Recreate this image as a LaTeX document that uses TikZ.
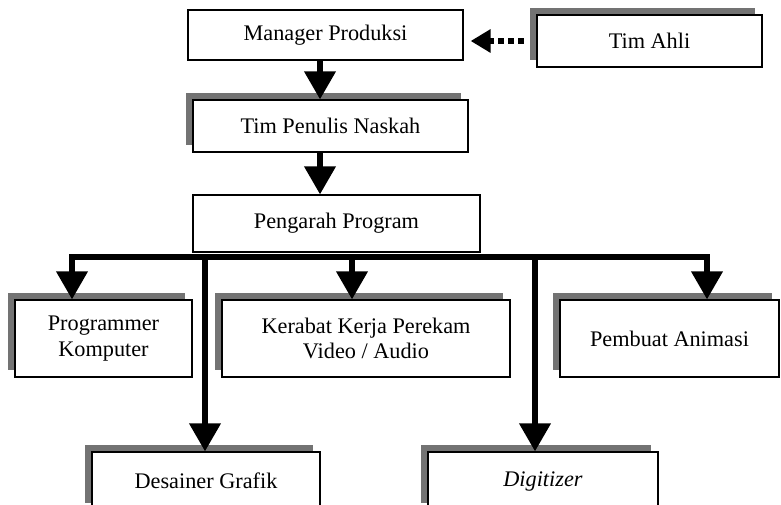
\documentclass[tikz,border=0pt]{standalone}
\usepackage{fontspec}
\setmainfont{Liberation Serif}
\usetikzlibrary{arrows.meta,shadows}
\begin{document}
\begin{tikzpicture}[x=0.03cm,y=-0.03cm,
  font=\fontsize{19}{21.5}\selectfont,
  box/.style={draw, line width=1pt, fill=white, align=center, inner sep=2pt},
  shbox/.style={box, drop shadow={shadow xshift=-6pt, shadow yshift=6pt, fill=black!55, opacity=1}},
  link/.style={line width=5pt, -{Triangle[length=24pt,width=26pt]}},
  helper/.style={line width=5pt, line cap=butt, dash pattern=on 5pt off 3.5pt, shorten <=11pt, shorten >=6pt, -{Triangle[length=17pt,width=19pt]}}]
\useasboundingbox (0,0) rectangle (781,505);
\clip (0,0) rectangle (781,505);
\node[box, minimum width=8.25cm, minimum height=1.5cm] (mgr) at (325.5,35) {Manager Produksi};
\node[shbox, minimum width=6.75cm, minimum height=1.56cm] (ahli) at (649.5,41) {Tim Ahli};
\node[shbox, minimum width=8.25cm, minimum height=1.56cm] (naskah) at (330.5,126) {Tim Penulis Naskah};
\node[box, minimum width=8.61cm, minimum height=1.71cm] (pengarah) at (336.5,223.5) {Pengarah Program};
\node[shbox, minimum width=5.31cm, minimum height=2.31cm] (prog) at (103.5,338.5) {Programmer\\Komputer};
\node[shbox, minimum width=8.64cm, minimum height=2.31cm] (kerabat) at (366,338.5) {Kerabat Kerja Perekam\\Video / Audio};
\node[shbox, minimum width=6.57cm, minimum height=2.31cm] (animasi) at (669.5,338.5) {Pembuat Animasi};
\node[shbox, minimum width=6.84cm, minimum height=1.74cm] (desainer) at (206,481) {Desainer Grafik};
\node[shbox, minimum width=6.9cm, minimum height=1.74cm] (digitizer) at (543,481) {\textit{Digitizer}};

\coordinate (spine) at (320,0);
\coordinate (b1) at (72,257);
\coordinate (b2) at (205,257);
\coordinate (b3) at (352,257);
\coordinate (b4) at (535,257);
\coordinate (b5) at (707,257);

\draw[helper] (ahli.west) -- (mgr.east |- ahli.west);
\draw[link] (mgr.south -| spine) -- (naskah.north -| spine);
\draw[link] (naskah.south -| spine) -- (pengarah.north -| spine);
\draw[line width=5pt, {Triangle[length=24pt,width=26pt]}-{Triangle[length=24pt,width=26pt]}]
  (b1 |- prog.north) -- (b1) -- (b5) -- (b5 |- animasi.north);
\draw[link] (b2) -- (b2 |- desainer.north);
\draw[link] (b3) -- (b3 |- kerabat.north);
\draw[link] (b4) -- (b4 |- digitizer.north);
\end{tikzpicture}
\end{document}
